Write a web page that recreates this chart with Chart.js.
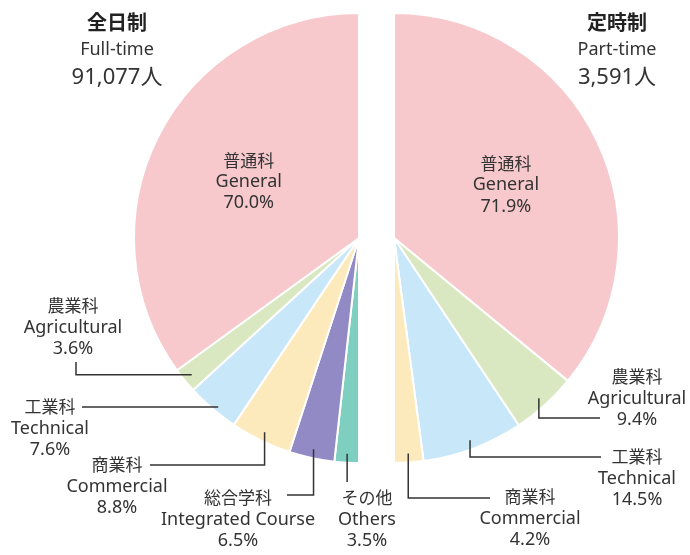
<!DOCTYPE html>
<html>
<head>
<meta charset="utf-8">
<script src="https://cdn.jsdelivr.net/npm/chart.js@4"></script>
<style>
  body { margin: 0; background: #fff; }
  #wrap { position: relative; width: 690px; height: 555px; font-family: "Noto Sans", "Noto Sans CJK JP", sans-serif; color: #333; }
  #wrap canvas { position: absolute; left: 0; top: 0; }
  .title { position: absolute; width: 160px; text-align: center; line-height: 27px; }
  .title .ja { font-size: 20px; font-weight: bold; color: #222; font-family: "Noto Sans CJK JP", sans-serif; }
  .title .en { font-size: 18px; }
  .title .num { font-size: 22px; }
</style>
</head>
<body>
<div id="wrap">
  <canvas id="fullChart" width="690" height="555"></canvas>
  <canvas id="partChart" width="690" height="555"></canvas>
  <div class="title" style="left:37px; top:8px;">
    <div class="ja">全日制</div><div class="en">Full-time</div><div class="num">91,077人</div>
  </div>
  <div class="title" style="left:537px; top:8px;">
    <div class="ja">定時制</div><div class="en">Part-time</div><div class="num">3,591人</div>
  </div>
</div>
<script>
// 全日制 (full-time)
const fullTimeJa = ['普通科', '農業科', '工業科', '商業科', '総合学科', 'その他'];
const fullTimeEn = ['General', 'Agricultural', 'Technical', 'Commercial', 'Integrated Course', 'Others'];
const fullTimeValues = [70.0, 3.6, 7.6, 8.8, 6.5, 3.5];

// 定時制 (part-time)
const partTimeJa = ['普通科', '農業科', '工業科', '商業科'];
const partTimeEn = ['General', 'Agricultural', 'Technical', 'Commercial'];
const partTimeValues = [71.9, 9.4, 14.5, 4.2];

const colors = {
  '普通科': '#f7c9cd',
  '農業科': '#d9e8c1',
  '工業科': '#c8e7f8',
  '商業科': '#fdeabc',
  '総合学科': '#918ac4',
  'その他': '#7ecfbf'
};

const FONT_JA = '17px "Noto Sans CJK JP", sans-serif';
const FONT_EN = '18px "Noto Sans", "Noto Sans CJK JP", sans-serif';
const LINE_H = 21.5;

// label spots: text centre x, first line y, leader type and elbow
const fullSpots = {
  '普通科': { inside: true },
  '農業科': { tx: 73, ty: 306, kind: 'hv', lx: 76, ly: 362 },
  '工業科': { tx: 50, ty: 407, kind: 'h', lx: 82, ly: 407 },
  '商業科': { tx: 117, ty: 465, kind: 'vh', lx: 150, ly: 465 },
  '総合学科': { tx: 238, ty: 498, kind: 'vh', lx: 287, ly: 495 },
  'その他': { tx: 367, ty: 498, kind: 'v', ly: 482 }
};
const partSpots = {
  '普通科': { inside: true },
  '農業科': { tx: 637, ty: 377, kind: 'vh', lx: 600, ly: 418 },
  '工業科': { tx: 637, ty: 457, kind: 'vh', lx: 601, ly: 457 },
  '商業科': { tx: 530, ty: 497, kind: 'vh', lx: 490, ly: 498 }
};

function drawLines(ctx, lines, x, y) {
  ctx.save();
  ctx.fillStyle = '#333';
  ctx.textAlign = 'center';
  ctx.textBaseline = 'middle';
  lines.forEach((t, k) => {
    ctx.font = k === 0 ? FONT_JA : FONT_EN;
    ctx.fillText(t, x, y + k * LINE_H);
  });
  ctx.restore();
}

const callouts = {
  id: 'callouts',
  afterDatasetsDraw(chart, args, opts) {
    const ctx = chart.ctx;
    const meta = chart.getDatasetMeta(0);
    meta.data.forEach((arc, i) => {
      const p = arc.getProps(['x', 'y', 'startAngle', 'endAngle', 'outerRadius'], true);
      const mid = (p.startAngle + p.endAngle) / 2;
      const ja = opts.ja[i];
      const spot = opts.spots[ja];
      const text = [ja, opts.en[i], opts.values[i].toFixed(1) + '%'];
      if (spot.inside) {
        const r = p.outerRadius * 0.55;
        drawLines(ctx, text, p.x + Math.cos(mid) * r, p.y + Math.sin(mid) * r - LINE_H);
        return;
      }
      const r = p.outerRadius * 0.96;
      const ax = p.x + Math.cos(mid) * r;
      const ay = p.y + Math.sin(mid) * r;
      ctx.save();
      ctx.strokeStyle = '#333';
      ctx.lineWidth = 1.5;
      ctx.beginPath();
      if (spot.kind === 'hv') {
        ctx.moveTo(ax, ay); ctx.lineTo(spot.lx, ay); ctx.lineTo(spot.lx, spot.ly);
      } else if (spot.kind === 'h') {
        ctx.moveTo(ax, spot.ly); ctx.lineTo(spot.lx, spot.ly);
      } else if (spot.kind === 'vh') {
        ctx.moveTo(ax, ay); ctx.lineTo(ax, spot.ly); ctx.lineTo(spot.lx, spot.ly);
      } else {
        ctx.moveTo(ax, ay); ctx.lineTo(ax, spot.ly);
      }
      ctx.stroke();
      ctx.restore();
      drawLines(ctx, text, spot.tx, spot.ty);
    });
  }
};

function halfPie(id, ja, en, values, spots, rotation, padding) {
  return new Chart(document.getElementById(id), {
    type: 'pie',
    data: {
      labels: ja,
      datasets: [{
        data: values,
        backgroundColor: ja.map(k => colors[k]),
        borderColor: '#fff',
        borderWidth: 2
      }]
    },
    options: {
      responsive: false,
      animation: false,
      rotation: rotation,
      circumference: 180,
      layout: { padding: padding },
      plugins: {
        legend: { display: false },
        tooltip: { enabled: false },
        callouts: { ja: ja, en: en, values: values, spots: spots }
      }
    },
    plugins: [callouts]
  });
}

// left half is drawn clockwise from the bottom, so reverse the order
halfPie('fullChart',
  fullTimeJa.slice().reverse(), fullTimeEn.slice().reverse(), fullTimeValues.slice().reverse(),
  fullSpots, 180, { left: 133, right: 330, top: 12, bottom: 91 });
halfPie('partChart', partTimeJa, partTimeEn, partTimeValues,
  partSpots, 0, { left: 393, right: 70, top: 12, bottom: 91 });
</script>
</body>
</html>
